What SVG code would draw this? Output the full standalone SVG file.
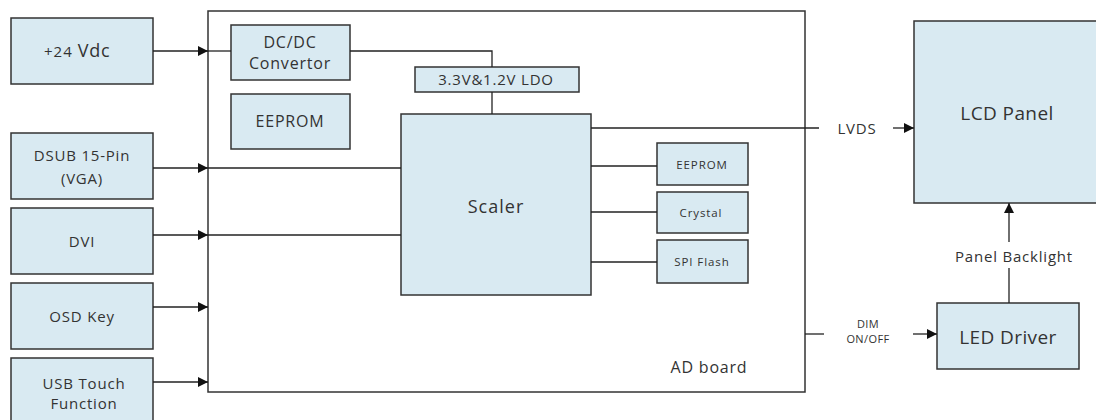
<svg xmlns="http://www.w3.org/2000/svg" width="1096" height="420" viewBox="0 0 1096 420">
<style>
.box{fill:#d9eaf2;stroke:#333;stroke-width:1.5}
.board{fill:#fff;stroke:#333;stroke-width:1.5}
.ln{fill:none;stroke:#222;stroke-width:1.3}
text{font-family:"Open Sans","Noto Sans","DejaVu Sans",sans-serif;fill:#333;text-anchor:middle;dominant-baseline:central}
.l{font-size:15px;letter-spacing:0.8px}
.m{font-size:16px;letter-spacing:0.8px}
.big{font-size:19px;letter-spacing:0.4px}
.s{font-size:11.5px;letter-spacing:0.9px}
.xs{font-size:11px;letter-spacing:0.4px}
</style>
<defs>
<marker id="arr" markerWidth="10" markerHeight="10" refX="10" refY="5" orient="auto" markerUnits="userSpaceOnUse">
<path d="M0,0 L10,5 L0,10 Z" fill="#111"/>
</marker>
</defs>
<rect width="1096" height="420" fill="#fff"/>
<g id="ad-board">
<rect class="board" x="208" y="11" width="597" height="381"/>
<text class="m" x="709" y="367">AD board</text>
</g>
<g id="vdc">
<rect class="box" x="11" y="18" width="142" height="66"/>
<text x="44" y="57" style="text-anchor:start;dominant-baseline:auto"><tspan font-size="15px" letter-spacing="1px">+24</tspan><tspan font-size="18px" letter-spacing="0.8px" dx="5">Vdc</tspan></text>
</g>
<g id="dsub">
<rect class="box" x="11" y="133" width="142" height="66"/>
<text class="l" x="82" y="155">DSUB 15-Pin</text>
<text class="l" x="82" y="178">(VGA)</text>
</g>
<g id="dvi">
<rect class="box" x="11" y="208" width="142" height="66"/>
<text class="l" x="82" y="241">DVI</text>
</g>
<g id="osd">
<rect class="box" x="11" y="283" width="142" height="66"/>
<text class="l" x="82" y="316">OSD Key</text>
</g>
<g id="usb">
<rect class="box" x="11" y="358" width="142" height="70"/>
<text class="l" x="84" y="383">USB Touch</text>
<text class="l" x="84" y="403">Function</text>
</g>
<g id="dcdc">
<rect class="box" x="231" y="25" width="119" height="55"/>
<text class="m" x="290" y="42">DC/DC</text>
<text class="m" x="290" y="63">Convertor</text>
</g>
<g id="eeprom1">
<rect class="box" x="231" y="94" width="119" height="55"/>
<text class="m" x="290" y="121">EEPROM</text>
</g>
<g id="ldo">
<rect class="box" x="415" y="67" width="164" height="25"/>
<text class="l" x="496" y="79">3.3V&amp;1.2V LDO</text>
</g>
<g id="scaler">
<rect class="box" x="401" y="114" width="190" height="181"/>
<text x="496" y="206" font-size="18px" letter-spacing="1px">Scaler</text>
</g>
<g id="eeprom2">
<rect class="box" x="657" y="143" width="91" height="42"/>
<text class="s" x="702" y="164">EEPROM</text>
</g>
<g id="crystal">
<rect class="box" x="657" y="192" width="91" height="41"/>
<text class="s" x="701" y="212">Crystal</text>
</g>
<g id="spi">
<rect class="box" x="657" y="240" width="91" height="43"/>
<text class="s" x="702" y="261">SPI Flash</text>
</g>
<g id="lcd">
<rect class="box" x="914" y="21" width="190" height="182"/>
<text class="big" x="1007" y="113">LCD Panel</text>
</g>
<g id="led">
<rect class="box" x="937" y="303" width="142" height="66"/>
<text class="big" x="1008" y="337">LED Driver</text>
</g>
<g id="connectors">
<line class="ln" x1="153" y1="51" x2="208" y2="51" marker-end="url(#arr)"/>
<line class="ln" x1="208" y1="51" x2="231" y2="51"/>
<line class="ln" x1="153" y1="168" x2="208" y2="168" marker-end="url(#arr)"/>
<line class="ln" x1="208" y1="168" x2="401" y2="168"/>
<line class="ln" x1="153" y1="235" x2="208" y2="235" marker-end="url(#arr)"/>
<line class="ln" x1="208" y1="235" x2="401" y2="235"/>
<line class="ln" x1="153" y1="307" x2="208" y2="307" marker-end="url(#arr)"/>
<line class="ln" x1="153" y1="382" x2="208" y2="382" marker-end="url(#arr)"/>
<polyline class="ln" points="350,51 492,51 492,67"/>
<line class="ln" x1="492" y1="92" x2="492" y2="114"/>
<line class="ln" x1="591" y1="166" x2="657" y2="166"/>
<line class="ln" x1="591" y1="212" x2="657" y2="212"/>
<line class="ln" x1="591" y1="262" x2="657" y2="262"/>
<line class="ln" x1="591" y1="128" x2="819" y2="128"/>
<text class="l" x="857" y="128">LVDS</text>
<line class="ln" x1="893" y1="128" x2="914" y2="128" marker-end="url(#arr)"/>
<line class="ln" x1="805" y1="334" x2="824" y2="334"/>
<text class="xs" x="868" y="323">DIM</text>
<text class="xs" x="868" y="338">ON/OFF</text>
<line class="ln" x1="913" y1="334" x2="937" y2="334" marker-end="url(#arr)"/>
<line class="ln" x1="1009" y1="303" x2="1009" y2="268"/>
<text class="l" x="1014" y="256">Panel Backlight</text>
<line class="ln" x1="1009" y1="242" x2="1009" y2="203" marker-end="url(#arr)"/>
</g>
</svg>
